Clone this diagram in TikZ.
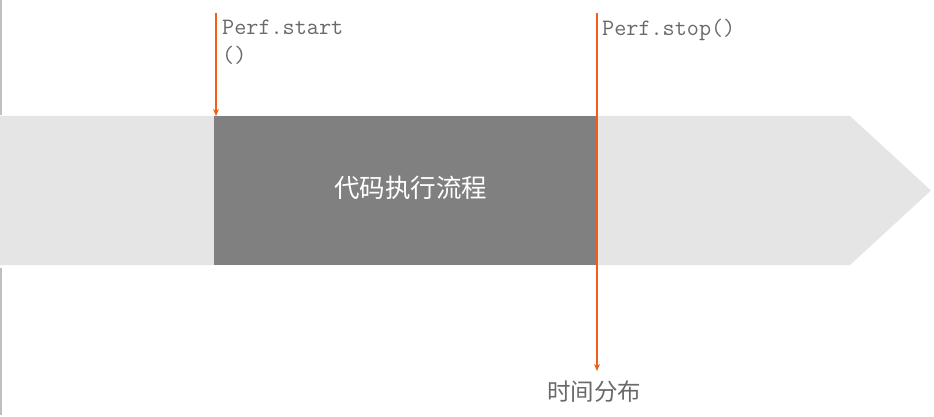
\documentclass[tikz,border=0pt]{standalone}
\usepackage{fontspec}
\newfontfamily\cjk{Noto Sans CJK SC}
\usetikzlibrary{arrows.meta}
\definecolor{band}{RGB}{229,229,229}
\definecolor{darkbox}{RGB}{128,128,128}
\definecolor{orangeline}{RGB}{240,96,20}
\definecolor{txtgray}{RGB}{105,105,105}
\tikzset{
  marker/.style={draw=orangeline, line width=1.6pt, -{Stealth[length=7pt,width=6pt]}},
  codelabel/.style={font=\ttfamily\fontsize{23.5}{28.5}\selectfont, text=txtgray, anchor=north west, inner sep=0pt, align=left},
  cjklabel/.style={font=\cjk, inner sep=0pt},
}
\begin{document}
\begin{tikzpicture}[x=1pt,y=-1pt]
\useasboundingbox (0,0) rectangle (934,417);
% left edge line
\draw[line width=1.5pt, draw=black!25] (0.75,0) -- (0.75,115);
\draw[line width=1.5pt, draw=black!25] (0.75,268) -- (0.75,415);
% timeline band arrow
\fill[band] (0,116) -- (850,116) -- (931,190.5) -- (850,265) -- (0,265) -- cycle;
% code execution box
\node[fill=darkbox, minimum width=383pt, minimum height=149pt, inner sep=0pt, anchor=north west] (exec) at (214,116) {};
\node[cjklabel, text=white, font=\cjk\fontsize{25.5}{30}\selectfont] (execlabel) at (410.5,188) {代码执行流程};
% start marker
\coordinate (s0) at (216,13);
\coordinate (s1) at (216,116);
\draw[marker] (s0) -- (s1);
\node[codelabel] (startlabel) at (222,19.5) {Perf.start\\()};
% stop marker
\coordinate (t0) at (597,13);
\coordinate (t1) at (597,371);
\draw[marker] (t0) -- (t1);
\node[codelabel] (stoplabel) at (602,18.5) {Perf.stop()};
\node[cjklabel, text=txtgray, font=\cjk\fontsize{23.5}{28}\selectfont] (dist) at (594,392) {时间分布};
\end{tikzpicture}
\end{document}
